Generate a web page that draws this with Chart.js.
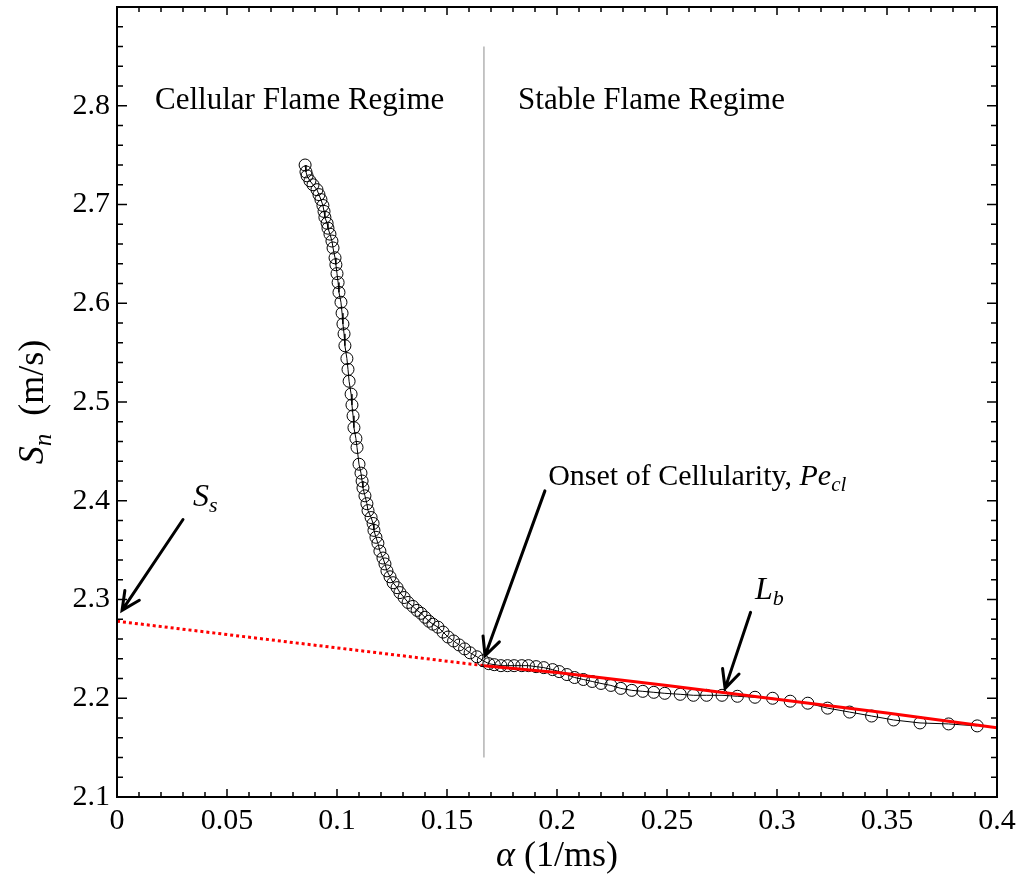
<!DOCTYPE html>
<html>
<head>
<meta charset="utf-8">
<script src="https://cdn.jsdelivr.net/npm/chart.js@4/dist/chart.umd.min.js"></script>
<style>
  body { margin: 0; background: #fff; }
  canvas { display: block; }
</style>
</head>
<body>
<canvas id="canvas-sn-alpha" width="1021" height="879"></canvas>
<script>
// flame speed vs stretch rate
var alpha = [0.0855,0.0859,0.0864,0.0877,0.0891,0.0909,0.0918,0.0927,0.0936,0.0941,
	0.0945,0.0955,0.0959,0.0968,0.0977,0.0982,0.0991,0.0995,0.1000,0.1005,
	0.1009,0.1018,0.1023,0.1027,0.1032,0.1036,0.1045,0.1050,0.1055,0.1064,
	0.1068,0.1073,0.1077,0.1086,0.1091,0.1100,0.1109,0.1114,0.1118,0.1127,
	0.1136,0.1141,0.1155,0.1164,0.1168,0.1177,0.1186,0.1195,0.1209,0.1218,
	0.1227,0.1241,0.1255,0.1273,0.1286,0.1305,0.1323,0.1345,0.1364,0.1382,
	0.1400,0.1418,0.1436,0.1459,0.1482,0.1505,0.1530,0.1555,0.1580,0.1605,
	0.1636,0.1665,0.1690,0.1715,0.1745,0.1775,0.1805,0.1840,0.1870,0.1905,
	0.1940,0.1980,0.2010,0.2045,0.2080,0.2120,0.2160,0.2200,0.2245,0.2290,
	0.2340,0.2390,0.2440,0.2490,0.2560,0.2620,0.2680,0.2750,0.2820,0.2900,
	0.2980,0.3060,0.3140,0.3230,0.3330,0.3430,0.3530,0.3650,0.3780,0.3910];
var sn = [2.740,2.733,2.729,2.724,2.720,2.715,2.710,2.705,2.699,2.693,
	2.687,2.681,2.676,2.670,2.663,2.656,2.646,2.639,2.630,2.621,
	2.611,2.601,2.590,2.579,2.569,2.557,2.544,2.533,2.521,2.508,
	2.497,2.486,2.474,2.463,2.454,2.437,2.428,2.420,2.413,2.405,
	2.397,2.390,2.383,2.377,2.370,2.363,2.357,2.349,2.342,2.336,
	2.329,2.323,2.317,2.312,2.307,2.302,2.297,2.293,2.289,2.286,
	2.282,2.278,2.275,2.272,2.267,2.262,2.258,2.254,2.250,2.246,
	2.242,2.238,2.235,2.234,2.233,2.233,2.233,2.233,2.233,2.232,
	2.231,2.229,2.227,2.224,2.221,2.219,2.217,2.215,2.213,2.210,
	2.208,2.207,2.206,2.205,2.204,2.203,2.203,2.203,2.202,2.201,
	2.200,2.197,2.195,2.190,2.186,2.182,2.178,2.175,2.174,2.172];

// linear fit in the stable regime and its extrapolation to alpha = 0
var fitAlpha = [0.1668, 0.20, 0.25, 0.30, 0.35, 0.40];
var fitSn = [2.233, 2.226, 2.213, 2.199, 2.185, 2.170];
var extAlpha = [0, 0.1668];
var extSn = [2.278, 2.233];

// onset of cellularity marker
var onsetAlpha = [0.1668, 0.1668];
var onsetSn = [2.14, 2.86];

var xTicks = [0, 0.05, 0.1, 0.15, 0.2, 0.25, 0.3, 0.35, 0.4];
var yTicks = [2.1, 2.2, 2.3, 2.4, 2.5, 2.6, 2.7, 2.8];

var serif = '"Liberation Serif", "Times New Roman", serif';

function pts(xs, ys){
	var out = [];
	for (var i = 0; i < xs.length; i++) out.push({x: xs[i], y: ys[i]});
	return out;
}

function richText(ctx, parts, x, y, align){
	var w = 0;
	parts.forEach(function(p){
		ctx.font = (p.italic ? 'italic ' : '') + p.size + 'px ' + serif;
		w += ctx.measureText(p.t).width;
	});
	var cx = align === 'center' ? x - w / 2 : x;
	ctx.textAlign = 'left';
	ctx.textBaseline = 'alphabetic';
	parts.forEach(function(p){
		ctx.font = (p.italic ? 'italic ' : '') + p.size + 'px ' + serif;
		ctx.fillText(p.t, cx, y + (p.dy || 0));
		cx += ctx.measureText(p.t).width;
	});
}

function arrow(ctx, x1, y1, x2, y2){
	var ang = Math.atan2(y2 - y1, x2 - x1);
	var head = 20, spread = 0.45;
	ctx.beginPath();
	ctx.moveTo(x1, y1);
	ctx.lineTo(x2, y2);
	ctx.moveTo(x2 - head * Math.cos(ang - spread), y2 - head * Math.sin(ang - spread));
	ctx.lineTo(x2, y2);
	ctx.lineTo(x2 - head * Math.cos(ang + spread), y2 - head * Math.sin(ang + spread));
	ctx.stroke();
}

var framePlugin = {
	id: 'frame',
	afterDraw: function(chart){
		var ctx = chart.ctx, a = chart.chartArea;
		var x = chart.scales.x, y = chart.scales.y;
		ctx.save();
		ctx.strokeStyle = '#000';
		ctx.lineWidth = 2;
		ctx.strokeRect(a.left, a.top, a.right - a.left, a.bottom - a.top);

		// inward ticks on all four sides
		ctx.lineWidth = 1.5;
		ctx.beginPath();
		for (var i = 0; i <= 40; i++) {
			var px = x.getPixelForValue(i * 0.01);
			var lx = i % 5 === 0 ? 8 : 5;
			ctx.moveTo(px, a.bottom); ctx.lineTo(px, a.bottom - lx);
			ctx.moveTo(px, a.top); ctx.lineTo(px, a.top + lx);
		}
		for (var j = 0; j <= 40; j++) {
			var py = y.getPixelForValue(2.1 + j * 0.02);
			var ly = j % 5 === 0 ? 10 : 6;
			ctx.moveTo(a.left, py); ctx.lineTo(a.left + ly, py);
			ctx.moveTo(a.right, py); ctx.lineTo(a.right - ly, py);
		}
		ctx.stroke();

		// annotations
		ctx.fillStyle = '#000';
		richText(ctx, [{t: 'Cellular Flame Regime', size: 31}], x.getPixelForValue(0.0173), y.getPixelForValue(2.797));
		richText(ctx, [{t: 'Stable Flame Regime', size: 31}], x.getPixelForValue(0.1823), y.getPixelForValue(2.797));
		richText(ctx, [{t: 'S', size: 32, italic: true}, {t: 's', size: 22, italic: true, dy: 6}],
			x.getPixelForValue(0.0345), y.getPixelForValue(2.395));
		richText(ctx, [{t: 'Onset of Cellularity, ', size: 30}, {t: 'Pe', size: 30, italic: true},
			{t: 'cl', size: 21, italic: true, dy: 6}], x.getPixelForValue(0.196), y.getPixelForValue(2.416));
		richText(ctx, [{t: 'L', size: 32, italic: true}, {t: 'b', size: 22, italic: true, dy: 6}],
			x.getPixelForValue(0.29), y.getPixelForValue(2.301));

		ctx.lineWidth = 3;
		ctx.lineCap = 'round';
		arrow(ctx, x.getPixelForValue(0.030), y.getPixelForValue(2.381), x.getPixelForValue(0.0023), y.getPixelForValue(2.289));
		arrow(ctx, x.getPixelForValue(0.1945), y.getPixelForValue(2.410), x.getPixelForValue(0.1673), y.getPixelForValue(2.243));
		arrow(ctx, x.getPixelForValue(0.288), y.getPixelForValue(2.287), x.getPixelForValue(0.2764), y.getPixelForValue(2.210));

		// axis titles
		richText(ctx, [{t: 'α', size: 36, italic: true}, {t: ' (1/ms)', size: 36}], (a.left + a.right) / 2, 866, 'center');
		ctx.translate(43, (a.top + a.bottom) / 2);
		ctx.rotate(-Math.PI / 2);
		richText(ctx, [{t: 'S', size: 36, italic: true}, {t: 'n', size: 25, italic: true, dy: 8},
			{t: '  (m/s)', size: 36}], 0, 0, 'center');
		ctx.restore();
	}
};

var chartSn = new Chart(document.getElementById('canvas-sn-alpha').getContext('2d'), {
	type: 'scatter',
	data: {
		datasets: [{
			label: 'Fit',
			data: pts(fitAlpha, fitSn),
			showLine: true,
			borderColor: '#ff0000',
			borderWidth: 3,
			pointRadius: 0,
			tension: 0
		},
		{
			label: 'Sn',
			data: pts(alpha, sn),
			showLine: true,
			borderColor: '#000',
			borderWidth: 1,
			pointRadius: 6,
			pointBorderWidth: 1,
			pointBorderColor: '#000',
			pointBackgroundColor: 'rgba(0,0,0,0)',
			tension: 0
		},
		{
			label: 'Extrapolation',
			data: pts(extAlpha, extSn),
			showLine: true,
			borderColor: '#ff0000',
			borderWidth: 3,
			borderDash: [3, 3],
			pointRadius: 0,
			tension: 0
		},
		{
			label: 'Onset',
			data: pts(onsetAlpha, onsetSn),
			showLine: true,
			borderColor: '#8c8c8c',
			borderWidth: 1,
			pointRadius: 0
		}]
	},
	options: {
		responsive: false,
		animation: false,
		layout: { padding: { top: 5, right: 24, left: 0, bottom: 0 } },
		plugins: {
			legend: { display: false },
			tooltip: { enabled: false }
		},
		scales: {
			x: {
				type: 'linear',
				min: 0,
				max: 0.4,
				border: { display: false },
				grid: { display: false, drawTicks: false },
				afterBuildTicks: function(s){ s.ticks = xTicks.map(function(v){ return {value: v}; }); },
				afterFit: function(s){ s.height = 82; s.paddingLeft = 0; s.paddingRight = 0; },
				ticks: {
					padding: 6,
					color: '#000',
					maxRotation: 0,
					autoSkip: false,
					font: { family: serif, size: 30 },
					callback: function(v){ return String(+v.toFixed(2)); }
				}
			},
			y: {
				type: 'linear',
				min: 2.1,
				max: 2.9,
				border: { display: false },
				grid: { display: false, drawTicks: false },
				afterBuildTicks: function(s){ s.ticks = yTicks.map(function(v){ return {value: v}; }); },
				afterFit: function(s){ s.width = 117; s.paddingTop = 0; s.paddingBottom = 0; },
				ticks: {
					padding: 7,
					color: '#000',
					autoSkip: false,
					font: { family: serif, size: 30 },
					callback: function(v){ return v.toFixed(1); }
				}
			}
		}
	},
	plugins: [framePlugin]
});
</script>
</body>
</html>
